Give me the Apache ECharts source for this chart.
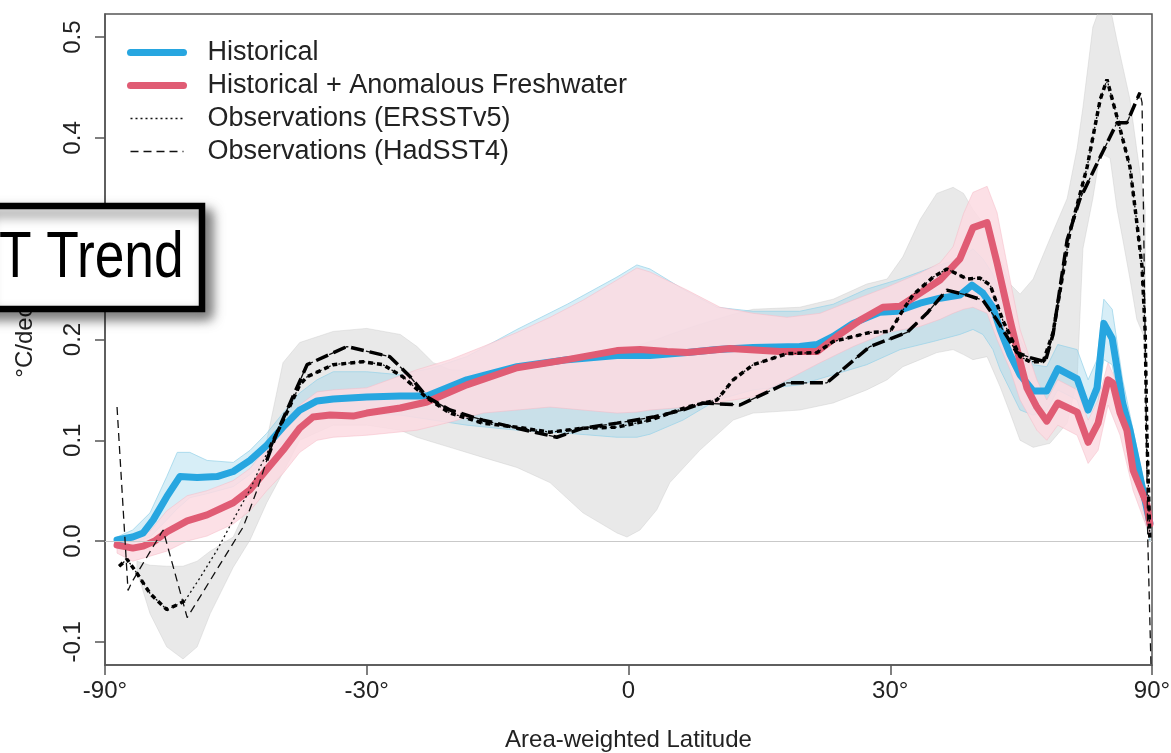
<!DOCTYPE html>
<html>
<head>
<meta charset="utf-8">
<script src="https://cdn.jsdelivr.net/npm/echarts@6/dist/echarts.min.js"></script>
<style>
html,body{margin:0;padding:0;background:#fff;}
#chart{width:1171px;height:753px;}
</style>
</head>
<body>
<div id="chart"></div>
<script>
// x values are area-weighted latitude, i.e. sin(latitude)
const xTicks = [-1, -0.5, 0, 0.5, 1];
const yTicks = [-0.1, 0, 0.1, 0.2, 0.3, 0.4, 0.5];

// Historical (model mean)
const histX = [-0.977,-0.947,-0.927,-0.908,-0.882,-0.857,-0.824,-0.786,-0.755,-0.723,-0.691,-0.660,-0.628,-0.595,-0.564,-0.500,-0.436,-0.385,-0.309,-0.213,-0.117,-0.022,0.041,0.112,0.169,0.238,0.327,0.360,0.391,0.429,0.480,0.513,0.557,0.595,0.633,0.656,0.677,0.696,0.710,0.729,0.748,0.773,0.799,0.820,0.857,0.878,0.895,0.908,0.924,0.944,0.958,0.977,0.996];
const histY = [0.001,0.004,0.008,0.021,0.044,0.064,0.063,0.064,0.069,0.080,0.095,0.113,0.130,0.139,0.141,0.143,0.144,0.144,0.160,0.173,0.180,0.184,0.184,0.187,0.190,0.192,0.193,0.195,0.203,0.216,0.227,0.228,0.236,0.241,0.244,0.254,0.246,0.232,0.210,0.185,0.165,0.149,0.149,0.171,0.161,0.130,0.152,0.216,0.201,0.137,0.110,0.064,0.018];

// Historical + Anomalous Freshwater
const freshX = [-0.977,-0.947,-0.927,-0.905,-0.882,-0.843,-0.805,-0.755,-0.723,-0.691,-0.660,-0.628,-0.603,-0.570,-0.526,-0.500,-0.436,-0.385,-0.309,-0.213,-0.117,-0.022,0.022,0.074,0.112,0.194,0.289,0.360,0.398,0.442,0.486,0.519,0.557,0.595,0.633,0.658,0.685,0.704,0.729,0.748,0.761,0.780,0.799,0.820,0.857,0.878,0.897,0.916,0.925,0.939,0.952,0.964,0.990,0.996];
const freshY = [-0.004,-0.007,-0.005,0.000,0.009,0.020,0.026,0.038,0.051,0.071,0.090,0.112,0.123,0.125,0.124,0.127,0.132,0.138,0.155,0.172,0.180,0.189,0.190,0.188,0.187,0.191,0.188,0.188,0.203,0.219,0.232,0.233,0.246,0.259,0.280,0.311,0.316,0.276,0.219,0.178,0.152,0.133,0.119,0.137,0.128,0.098,0.117,0.160,0.157,0.127,0.110,0.070,0.037,0.017];

// Observations (ERSSTv5)
const ersX = [-0.973,-0.958,-0.939,-0.914,-0.882,-0.857,-0.847,-0.818,-0.786,-0.755,-0.723,-0.704,-0.685,-0.653,-0.628,-0.614,-0.564,-0.507,-0.469,-0.431,-0.385,-0.341,-0.278,-0.213,-0.150,-0.087,-0.022,0.041,0.112,0.169,0.200,0.238,0.303,0.360,0.391,0.461,0.500,0.524,0.543,0.582,0.608,0.620,0.647,0.671,0.691,0.715,0.748,0.767,0.792,0.811,0.843,0.876,0.901,0.914,0.933,0.958,0.971,0.981,0.987,0.990,0.996];
const ersY = [-0.025,-0.018,-0.032,-0.052,-0.068,-0.062,-0.059,-0.036,-0.009,0.021,0.051,0.073,0.093,0.127,0.155,0.163,0.175,0.178,0.175,0.163,0.142,0.127,0.117,0.113,0.108,0.112,0.113,0.120,0.133,0.140,0.160,0.175,0.186,0.187,0.198,0.207,0.208,0.229,0.244,0.262,0.270,0.267,0.260,0.261,0.254,0.219,0.183,0.178,0.178,0.207,0.306,0.371,0.438,0.458,0.421,0.371,0.316,0.272,0.207,0.110,0.001];
const ersThick = [[-1, -0.847], [-0.685, 1]];

// Observations (HadSST4)
const hadX = [-0.977,-0.956,-0.949,-0.889,-0.843,-0.736,-0.710,-0.691,-0.672,-0.614,-0.538,-0.456,-0.417,-0.385,-0.341,-0.278,-0.213,-0.137,-0.087,-0.022,0.047,0.104,0.142,0.213,0.303,0.379,0.461,0.532,0.570,0.608,0.647,0.677,0.704,0.742,0.767,0.796,0.811,0.838,0.862,0.901,0.933,0.952,0.977,0.981,0.992,0.998];
const hadY = [0.133,-0.049,-0.041,0.011,-0.076,0.014,0.050,0.080,0.107,0.175,0.193,0.183,0.163,0.143,0.130,0.120,0.112,0.103,0.112,0.117,0.123,0.130,0.137,0.135,0.157,0.157,0.193,0.207,0.226,0.249,0.244,0.239,0.219,0.187,0.182,0.178,0.205,0.299,0.339,0.381,0.415,0.415,0.445,0.435,0.000,-0.122];
const hadThick = [[-0.691, 0.977]];

// Observational spread (grey band)
const obsBandX = [-0.939,-0.914,-0.882,-0.851,-0.824,-0.799,-0.755,-0.723,-0.691,-0.660,-0.628,-0.564,-0.500,-0.436,-0.404,-0.373,-0.341,-0.278,-0.213,-0.150,-0.087,-0.022,-0.003,0.022,0.054,0.079,0.136,0.200,0.238,0.327,0.391,0.455,0.494,0.524,0.557,0.589,0.620,0.640,0.658,0.685,0.710,0.729,0.748,0.773,0.805,0.838,0.857,0.868,0.887,0.901,0.920,0.933,0.944,0.958,0.971,0.987];
const obsBandLo = [-0.030,-0.072,-0.105,-0.117,-0.105,-0.072,-0.026,0.001,0.038,0.068,0.100,0.115,0.115,0.110,0.103,0.098,0.093,0.083,0.073,0.058,0.028,0.008,0.004,0.011,0.031,0.058,0.090,0.120,0.127,0.130,0.137,0.150,0.160,0.173,0.180,0.187,0.190,0.185,0.180,0.183,0.153,0.127,0.100,0.093,0.097,0.117,0.160,0.290,0.340,0.385,0.380,0.330,0.300,0.260,0.220,0.200];
const obsBandHi = [-0.020,-0.024,-0.025,-0.025,-0.020,-0.010,0.004,0.040,0.100,0.177,0.197,0.208,0.211,0.205,0.193,0.177,0.170,0.168,0.170,0.175,0.180,0.190,0.190,0.195,0.200,0.205,0.215,0.225,0.230,0.232,0.240,0.255,0.260,0.282,0.319,0.345,0.351,0.345,0.329,0.310,0.280,0.255,0.245,0.260,0.300,0.340,0.390,0.430,0.510,0.530,0.530,0.497,0.471,0.438,0.388,0.330];

// Historical spread (blue band)
const histBandX = [-0.977,-0.947,-0.914,-0.882,-0.862,-0.838,-0.805,-0.755,-0.723,-0.691,-0.660,-0.628,-0.595,-0.564,-0.500,-0.436,-0.373,-0.309,-0.213,-0.117,-0.022,0.016,0.041,0.104,0.169,0.238,0.327,0.391,0.455,0.519,0.582,0.633,0.658,0.677,0.696,0.710,0.729,0.748,0.773,0.799,0.820,0.857,0.878,0.895,0.908,0.924,0.944,0.964,0.996];
const histBandLo = [-0.002,-0.002,0.004,0.021,0.032,0.043,0.047,0.054,0.066,0.082,0.098,0.114,0.122,0.124,0.126,0.125,0.120,0.115,0.110,0.107,0.103,0.103,0.106,0.120,0.140,0.150,0.155,0.165,0.175,0.190,0.198,0.205,0.210,0.205,0.190,0.170,0.150,0.130,0.125,0.130,0.150,0.140,0.105,0.130,0.180,0.175,0.115,0.070,0.000];
const histBandHi = [0.004,0.011,0.028,0.064,0.088,0.088,0.080,0.078,0.090,0.107,0.127,0.147,0.160,0.168,0.168,0.165,0.172,0.183,0.210,0.235,0.262,0.274,0.270,0.250,0.232,0.228,0.228,0.235,0.250,0.260,0.272,0.280,0.290,0.280,0.265,0.245,0.220,0.200,0.175,0.173,0.195,0.190,0.160,0.180,0.240,0.230,0.160,0.110,0.030];

// Freshwater spread (pink band)
const freshBandX = [-0.977,-0.947,-0.914,-0.882,-0.843,-0.805,-0.755,-0.723,-0.691,-0.660,-0.628,-0.595,-0.564,-0.500,-0.404,-0.341,-0.278,-0.213,-0.150,-0.087,-0.022,0.016,0.041,0.112,0.175,0.238,0.303,0.366,0.429,0.494,0.557,0.595,0.620,0.640,0.658,0.685,0.704,0.729,0.748,0.780,0.799,0.820,0.857,0.878,0.897,0.916,0.939,0.964,0.996];
const freshBandLo = [-0.012,-0.020,-0.015,-0.010,0.000,0.005,0.017,0.030,0.050,0.067,0.088,0.100,0.103,0.105,0.110,0.118,0.127,0.130,0.133,0.130,0.127,0.128,0.130,0.133,0.138,0.143,0.160,0.177,0.193,0.207,0.213,0.220,0.226,0.230,0.232,0.226,0.200,0.170,0.140,0.110,0.100,0.115,0.105,0.077,0.090,0.135,0.105,0.050,0.005];
const freshBandHi = [0.004,0.004,0.010,0.030,0.045,0.050,0.060,0.072,0.093,0.113,0.135,0.148,0.150,0.152,0.170,0.180,0.193,0.207,0.222,0.239,0.259,0.271,0.267,0.249,0.232,0.226,0.222,0.226,0.239,0.252,0.266,0.276,0.292,0.325,0.346,0.352,0.326,0.259,0.210,0.160,0.140,0.160,0.150,0.120,0.140,0.177,0.150,0.090,0.030];

const FONT = '"Liberation Sans", Arial, Helvetica, sans-serif';

function zip(xs, ys) {
  const n = Math.min(xs.length, ys.length), out = [];
  for (let i = 0; i < n; i++) out.push([xs[i], ys[i]]);
  return out;
}
function masked(xs, ys, ranges) {
  const n = Math.min(xs.length, ys.length), out = [];
  for (let i = 0; i < n; i++) {
    const ok = ranges.some(r => xs[i] >= r[0] - 1e-9 && xs[i] <= r[1] + 1e-9);
    out.push([xs[i], ok ? ys[i] : '-']);
  }
  return out;
}
function band(name, xs, lo, hi, fill, stroke, z) {
  return {
    type: 'custom', name: name, z: z, silent: true, clip: true,
    data: [[0, 0]],
    renderItem: function (params, api) {
      const n = Math.min(xs.length, lo.length, hi.length), pts = [];
      for (let i = 0; i < n; i++) pts.push(api.coord([xs[i], hi[i]]));
      for (let i = n - 1; i >= 0; i--) pts.push(api.coord([xs[i], lo[i]]));
      return { type: 'polygon', shape: { points: pts }, style: { fill: fill, stroke: stroke, lineWidth: 1 } };
    }
  };
}

const chart = echarts.init(document.getElementById('chart'), null, { renderer: 'canvas' });

const hideSym = { opacity: 0, borderWidth: 0 };

const option = {
  animation: false,
  backgroundColor: '#ffffff',
  grid: { left: 105, right: 19, top: 14, bottom: 88, outerBoundsMode: 'none', containLabel: false,
    show: true, borderColor: '#555', borderWidth: 1.5, backgroundColor: 'transparent' },
  xAxis: {
    type: 'value', min: -1, max: 1, interval: 0.5,
    axisLine: { show: true, onZero: false, lineStyle: { color: '#555', width: 1.5 } },
    axisTick: { show: true, inside: false, length: 10, lineStyle: { color: '#555', width: 1.5 } },
    axisLabel: {
      margin: 14, fontSize: 24, color: '#222', fontFamily: FONT, showMinLabel: true, showMaxLabel: true,
      formatter: function (v) {
        const d = Math.round(Math.asin(Math.max(-1, Math.min(1, v))) * 180 / Math.PI);
        return d === 0 ? '0' : d + '°';
      }
    },
    splitLine: { show: false },
    name: 'Area-weighted Latitude', nameLocation: 'middle', nameGap: 63,
    nameTextStyle: { fontSize: 24, color: '#222', fontFamily: FONT }
  },
  yAxis: {
    type: 'value', min: -0.123, max: 0.523,
    axisLine: { show: true, onZero: false, lineStyle: { color: '#555', width: 1.5 } },
    axisTick: { show: true, inside: false, length: 10, customValues: yTicks, lineStyle: { color: '#555', width: 1.5 } },
    axisLabel: {
      customValues: yTicks, rotate: 90, margin: 20, fontSize: 24, color: '#222', fontFamily: FONT,
      formatter: function (v) { return Number(v).toFixed(1); }
    },
    splitLine: { show: false },
    name: '°C/decade', nameLocation: 'middle', nameGap: 68, nameRotate: 90,
    nameTextStyle: { fontSize: 24, color: '#222', fontFamily: FONT, padding: [0, 0, 0, 36] }
  },
  legend: {
    orient: 'vertical', left: 122, top: 33, itemWidth: 53, itemHeight: 14, itemGap: 4,
    textStyle: { fontSize: 27, color: '#222', fontFamily: FONT, lineHeight: 29, padding: [0, 0, 0, 19] },
    data: [
      { name: 'Historical', itemStyle: hideSym, lineStyle: { width: 7, cap: 'round' } },
      { name: 'Historical + Anomalous Freshwater', itemStyle: hideSym, lineStyle: { width: 7, cap: 'round' } },
      { name: 'Observations (ERSSTv5)', itemStyle: hideSym, lineStyle: { width: 1.6 } },
      { name: 'Observations (HadSST4)', itemStyle: hideSym, lineStyle: { width: 1.6 } }
    ]
  },
  graphic: [
    {
      type: 'rect', z: 100, shape: { x: -20, y: 206, width: 222, height: 103 },
      style: { fill: '#ffffff', stroke: '#000000', lineWidth: 6.5, shadowBlur: 12, shadowOffsetX: 7, shadowOffsetY: 7, shadowColor: 'rgba(0,0,0,0.5)' }
    },
    {
      type: 'text', z: 101, x: -1, y: 259, scaleX: 0.82,
      style: { text: 'T Trend', fontSize: 65, fontFamily: FONT, fill: '#000', align: 'left', verticalAlign: 'middle' }
    }
  ],
  series: [
    band('Obs spread', obsBandX, obsBandLo, obsBandHi, 'rgba(190,190,190,0.34)', 'rgba(200,200,200,0.4)', 1),
    band('Historical spread', histBandX, histBandLo, histBandHi, 'rgba(150,210,235,0.38)', 'rgba(150,210,232,0.7)', 1),
    band('Freshwater spread', freshBandX, freshBandLo, freshBandHi, 'rgba(251,219,226,0.86)', 'rgba(245,185,198,0.5)', 1),
    {
      name: 'Historical', type: 'line', z: 3, symbol: 'none', showSymbol: false,
      data: zip(histX, histY),
      lineStyle: { color: '#27a6e0', width: 7, join: 'round', cap: 'round' }, itemStyle: { color: '#27a6e0' },
      markLine: { silent: true, symbol: 'none', label: { show: false }, data: [{ yAxis: 0 }],
        lineStyle: { color: '#c9c9c9', width: 1.2, type: 'solid' } }
    },
    {
      name: 'Historical + Anomalous Freshwater', type: 'line', z: 4, symbol: 'none', showSymbol: false,
      data: zip(freshX, freshY),
      lineStyle: { color: '#e05c74', width: 7, join: 'round', cap: 'round' }, itemStyle: { color: '#e05c74' }
    },
    {
      name: 'Observations (ERSSTv5)', type: 'line', z: 5, symbol: 'none', showSymbol: false,
      data: zip(ersX, ersY),
      lineStyle: { color: '#111', width: 1.3, type: [2, 3] }, itemStyle: { color: '#111' }
    },
    {
      name: 'Observations (HadSST4)', type: 'line', z: 5, symbol: 'none', showSymbol: false,
      data: zip(hadX, hadY),
      lineStyle: { color: '#111', width: 1.3, type: [8, 5] }, itemStyle: { color: '#111' }
    },
    {
      name: 'ERSSTv5 well-sampled', type: 'line', z: 6, symbol: 'none', showSymbol: false, connectNulls: false,
      data: masked(ersX, ersY, ersThick),
      lineStyle: { color: '#000', width: 3.5, type: [5, 4] }, itemStyle: { color: '#000' }
    },
    {
      name: 'HadSST4 well-sampled', type: 'line', z: 6, symbol: 'none', showSymbol: false, connectNulls: false,
      data: masked(hadX, hadY, hadThick),
      lineStyle: { color: '#000', width: 3.5, type: [13, 6] }, itemStyle: { color: '#000' }
    }
  ]
};
chart.setOption(option);
</script>
</body>
</html>
